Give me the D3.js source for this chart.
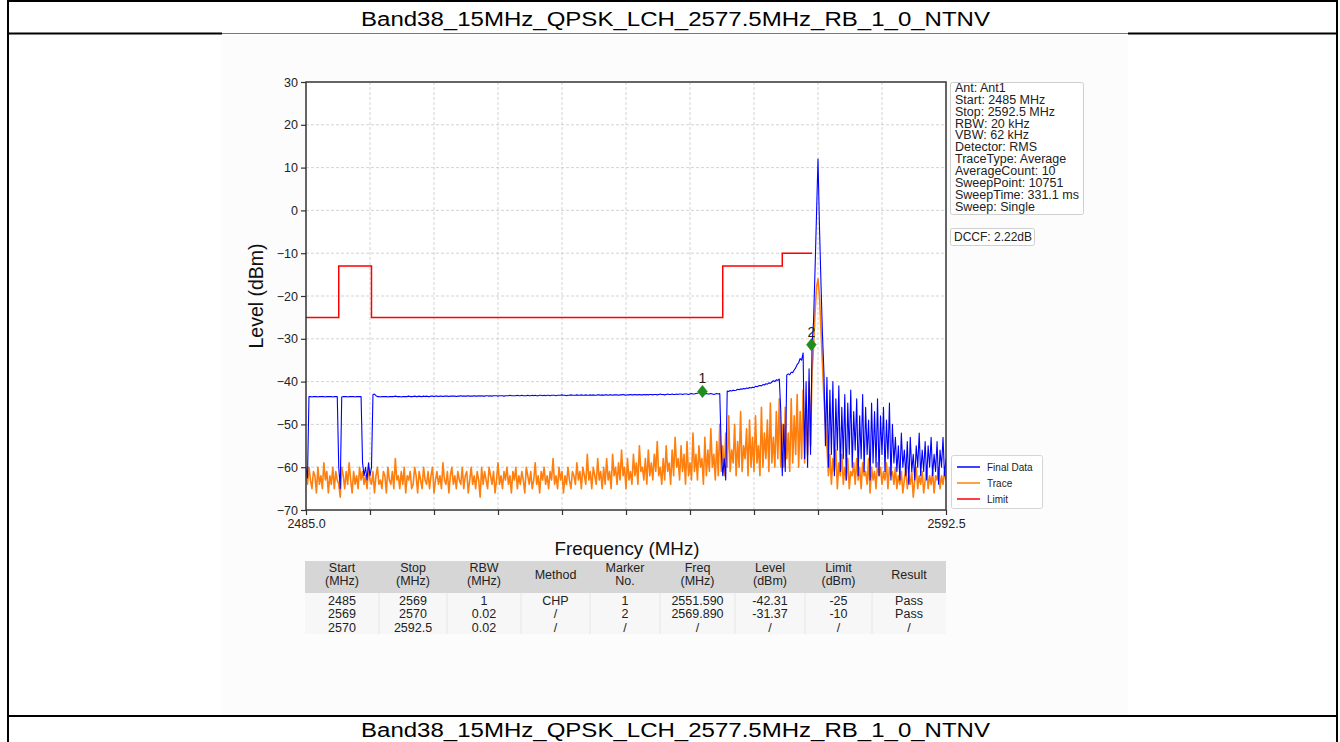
<!DOCTYPE html>
<html>
<head>
<meta charset="utf-8">
<script src="https://cdn.jsdelivr.net/npm/d3@7"></script>
<style>
  html, body { margin: 0; padding: 0; background: #fff; }
  svg { display: block; }
  text { font-family: "Liberation Sans", Arial, Helvetica, sans-serif; }
</style>
</head>
<body>
<svg id="chart" width="1340" height="742"></svg>
<script>
// ---- sweep settings ----
const sweepStart = 2485.0;
const sweepStop = 2592.5;

// ---- axis ticks ----
const freqTicks = [2485, 2495.75, 2506.5, 2517.25, 2528, 2538.75, 2549.5, 2560.25, 2571, 2581.75, 2592.5];
const freqTickLabels = ["2485.0", "", "", "", "", "", "", "", "", "", "2592.5"];
const levelTicks = [-70, -60, -50, -40, -30, -20, -10, 0, 10, 20, 30];

// ---- measured trace (dBm), evenly spaced over the sweep ----
const traceLevel = [
  -61,-64,-60,-63,-65,-61,-62,-66,-60,-64,-62,-65,-59,-63,-61,-66,-62,-64,-60,-65,
  -61,-63,-64,-67,-60,-62,-65,-61,-64,-59,-63,-66,-61,-64,-62,-65,-60,-63,-61,-64,
  -62,-65,-60,-63,-64,-61,-66,-62,-60,-64,-63,-65,-61,-62,-66,-60,-63,-64,-61,-65,
  -58,-63,-62,-65,-61,-64,-60,-66,-62,-63,-61,-65,-64,-60,-62,-66,-61,-63,-65,-60,
  -63,-64,-61,-65,-62,-60,-66,-63,-61,-64,-62,-65,-59,-63,-64,-61,-66,-62,-60,-64,
  -62,-65,-61,-63,-64,-60,-65,-62,-61,-66,-63,-60,-64,-62,-65,-61,-63,-67,-60,-64,
  -61,-63,-65,-60,-62,-64,-61,-66,-63,-59,-64,-62,-65,-61,-63,-60,-64,-62,-66,-61,
  -63,-60,-65,-62,-64,-61,-63,-66,-60,-62,-64,-61,-65,-63,-59,-64,-62,-66,-61,-63,
  -60,-64,-62,-65,-61,-63,-58,-64,-62,-65,-60,-63,-61,-66,-62,-64,-60,-63,-65,-61,
  -62,-64,-59,-63,-61,-65,-60,-62,-64,-57,-63,-61,-65,-60,-62,-64,-58,-63,-61,-65,
  -60,-64,-58,-63,-61,-65,-57,-62,-60,-64,-59,-63,-56,-62,-60,-65,-58,-63,-61,-64,
  -57,-62,-59,-64,-55,-61,-60,-63,-58,-64,-56,-62,-59,-63,-57,-61,-54,-62,-60,-64,
  -58,-63,-55,-61,-59,-64,-56,-62,-53,-60,-58,-63,-55,-61,-57,-64,-54,-62,-59,-63,
  -52,-61,-57,-63,-55,-60,-58,-64,-53,-62,-56,-61,-51,-60,-57,-63,-54,-62,-50,-61,
  -55,-62,-52,-60,-48,-61,-56,-59,-50,-62,-54,-60,-47,-61,-55,-58,-51,-62,-49,-60,
  -53,-61,-48,-59,-55,-62,-46,-60,-52,-58,-49,-61,-45,-59,-53,-60,-47,-58,-44,-60,
  -50,-60,-46,-58,-52,-61,-44,-59,-48,-57,-43,-60,-47,-58,-42,-59,-45,-57,-40,-55,
  -38,-32,-24,-18,-16,-20,-28,-36,-44,-50,
  -55,-62,-57,-64,-58,-61,-56,-65,-59,-62,-57,-64,-60,-63,-58,-65,-61,-62,-59,-64,
  -58,-63,-60,-65,-59,-62,-61,-64,-58,-66,-60,-63,-61,-65,-59,-62,-60,-64,-61,-63,
  -59,-65,-60,-62,-61,-64,
  -60,-65,-62,-64,-61,-66,-63,-60,-65,-62,-64,-61,-67,-63,-60,-65,-62,-64,-61,-66,
  -63,-60,-65,-62,-64,-61,-66,-62,-63,-60,-65,-62,-64,-61,-63
];

// ---- final data (dBm), same sweep points ----
const finalLevel = [
  -60,-62.5,
  -43.5,-43.5,-43.6,-43.5,-43.5,-43.5,-43.6,-43.5,-43.5,-43.5,-43.5,-43.6,-43.5,-43.5,-43.5,-43.5,-43.6,-43.5,-43.5,-43.5,
  -60,-65,
  -43.6,-43.5,-43.5,-43.5,-43.6,-43.5,-43.5,-43.5,-43.5,-43.6,-43.5,-43.5,-43.5,-43.5,
  -59,-62,-60,-63,-59,-62,-60,
  -43.0,-42.9,-43.3,
  -43.5,-43.5,-43.6,-43.5,-43.5,-43.5,-43.5,-43.6,-43.5,-43.5,-43.5,-43.5,-43.4,-43.5,-43.5,-43.5,-43.6,-43.5,-43.5,-43.5,
  -43.5,-43.4,-43.5,-43.5,-43.5,-43.4,-43.5,-43.5,-43.4,-43.5,-43.5,-43.4,-43.5,-43.4,-43.5,-43.5,-43.4,-43.4,-43.5,-43.4,
  -43.4,-43.5,-43.4,-43.4,-43.5,-43.4,-43.4,-43.4,-43.5,-43.4,-43.4,-43.4,-43.4,-43.5,-43.4,-43.4,-43.3,-43.4,-43.4,-43.4,
  -43.4,-43.3,-43.4,-43.4,-43.4,-43.3,-43.4,-43.4,-43.3,-43.4,-43.3,-43.4,-43.4,-43.3,-43.3,-43.4,-43.3,-43.4,-43.3,-43.3,
  -43.3,-43.4,-43.3,-43.3,-43.3,-43.4,-43.3,-43.3,-43.3,-43.2,-43.3,-43.3,-43.3,-43.3,-43.2,-43.3,-43.3,-43.2,-43.3,-43.3,
  -43.3,-43.2,-43.3,-43.3,-43.2,-43.3,-43.2,-43.3,-43.3,-43.2,-43.2,-43.3,-43.2,-43.3,-43.2,-43.2,-43.3,-43.2,-43.2,-43.2,
  -43.3,-43.2,-43.2,-43.2,-43.1,-43.2,-43.2,-43.3,-43.2,-43.2,-43.1,-43.2,-43.2,-43.2,-43.1,-43.2,-43.2,-43.1,-43.2,-43.2,
  -43.1,-43.2,-43.2,-43.1,-43.2,-43.1,-43.2,-43.2,-43.1,-43.1,-43.2,-43.1,-43.2,-43.1,-43.1,-43.2,-43.1,-43.1,-43.2,-43.1,
  -43.1,-43.1,-43.2,-43.1,-43.1,-43.0,-43.1,-43.2,-43.1,-43.1,-43.0,-43.1,-43.1,-43.0,-43.1,-43.1,-43.0,-43.1,-43.1,-43.0,
  -43.1,-43.0,-43.1,-43.0,-43.0,-43.1,-43.0,-43.0,-43.1,-43.0,-42.9,-43.0,-43.0,-43.1,-43.0,-42.9,-43.0,-43.0,-42.9,-43.0,
  -43.0,-42.9,-43.0,-42.9,-42.9,-43.0,-42.9,-42.9,-42.9,-43.0,-42.9,-42.8,-42.9,-42.9,-42.8,-42.7,-42.6,-42.6,-42.7,-42.8,
  -42.9,-42.8,-42.9,-42.9,-42.8,-42.9,-43.0,-42.9,-42.8,-42.9,-42.8,
  -56,-62,-58,-63,
  -42.2,-42.3,-42.1,-42.2,-42.0,-42.1,-42.0,-41.8,-41.9,-41.7,-41.8,-41.6,-41.7,-41.5,-41.6,-41.4,-41.5,-41.3,
  -41.4,-41.1,-41.2,-41.0,-40.9,-41.0,-40.7,-40.8,-40.5,-40.6,-40.3,-40.4,-40.1,-39.8,-40.0,-39.6,-39.7,-39.4,
  -47,-62,-50,-61,
  -38.5,-38.2,-38.4,-37.8,-37.9,-37.3,-36.8,-36.0,-35.6,-34.6,-35.0,-33.3,
  -58,-40,-60,-37,-57,
  -31.4,
  -26,-14,-1,12,-4,-17,-29,-38,
  -55,-39,-60,-42,-57,-40,-62,-44,-56,-41,-61,-46,-58,-43,-63,-45,-57,-42,-60,-47,
  -56,-44,-62,-48,-58,-43,-61,-46,-57,-49,-63,-45,-59,-47,-60,-44,-62,-48,-57,-46,
  -61,-49,-58,-45,-63,-50,-59,
  -53,-61,-55,-63,-52,-60,-56,-62,-54,-64,-53,-61,-57,-63,-55,-60,-52,-62,-56,-61,
  -54,-63,-55,-60,-53,-62,-57,-61,-54,-64,-56,-60,-53,-62,-58
];

// ---- limit line (MHz, dBm) ----
const limitFreq = [2485, 2490.5, 2490.5, 2496, 2496, 2555, 2555, 2565, 2565, 2570];
const limitLevel = [-25, -25, -13, -13, -25, -25, -13, -13, -10, -10];

// ---- markers ----
const markerNo = ["1", "2"];
const markerFreq = [2551.590, 2569.890];
const markerLevel = [-42.31, -31.37];

// ---- settings panel ----
const settingsLines = [
  "Ant: Ant1", "Start: 2485 MHz", "Stop: 2592.5 MHz", "RBW: 20 kHz", "VBW: 62 kHz",
  "Detector: RMS", "TraceType: Average", "AverageCount: 10", "SweepPoint: 10751",
  "SweepTime: 331.1 ms", "Sweep: Single"
];
const dccfText = "DCCF: 2.22dB";

// ---- legend ----
const legendNames = ["Final Data", "Trace", "Limit"];
const legendColors = ["#0000ff", "#ff7f0e", "#ff0000"];

// ---- result table ----
const tableHeader = [
  ["Start", "(MHz)"], ["Stop", "(MHz)"], ["RBW", "(MHz)"], ["Method"], ["Marker", "No."],
  ["Freq", "(MHz)"], ["Level", "(dBm)"], ["Limit", "(dBm)"], ["Result"]
];
const tableRows = [
  ["2485", "2569", "1", "CHP", "1", "2551.590", "-42.31", "-25", "Pass"],
  ["2569", "2570", "0.02", "/", "2", "2569.890", "-31.37", "-10", "Pass"],
  ["2570", "2592.5", "0.02", "/", "/", "/", "/", "/", "/"]
];

const pageTitle = "Band38_15MHz_QPSK_LCH_2577.5MHz_RB_1_0_NTNV";

// =====================================================
const svg = d3.select("#chart");
const W = 1340, H = 742;

// page frame
const frame = svg.append("g");
frame.append("rect").attr("x", 222).attr("y", 35).attr("width", 906).attr("height", 680).attr("fill", "#fcfcfc");
const hl = (y, x1, x2, w, c) => frame.append("line").attr("x1", x1).attr("x2", x2).attr("y1", y).attr("y2", y)
  .attr("stroke", c).attr("stroke-width", w);
hl(1, 8, 1338, 2, "#000");
hl(33.5, 8, 222, 2, "#000");
hl(33.5, 222, 1128, 1, "#777");
hl(33.5, 1128, 1338, 2, "#000");
hl(716, 8, 1338, 2, "#000");
frame.append("line").attr("x1", 8).attr("x2", 8).attr("y1", 0).attr("y2", H).attr("stroke", "#000").attr("stroke-width", 2);
frame.append("line").attr("x1", 1337).attr("x2", 1337).attr("y1", 0).attr("y2", H).attr("stroke", "#000").attr("stroke-width", 2);

[26, 737].forEach(y => {
  frame.append("text").attr("x", 675.5).attr("y", y).attr("text-anchor", "middle")
    .attr("font-size", 20).attr("textLength", 629).attr("lengthAdjust", "spacingAndGlyphs")
    .style("font-family", '"Liberation Sans Narrow", "Arial Narrow", "Liberation Sans", Arial, sans-serif')
    .attr("fill", "#000").text(pageTitle);
});

// plot area
const plot = { left: 306, right: 946, top: 82, bottom: 510 };
const x = d3.scaleLinear().domain([sweepStart, sweepStop]).range([plot.left, plot.right]);
const y = d3.scaleLinear().domain([-70, 30]).range([plot.bottom, plot.top]);

const g = svg.append("g");
g.append("rect").attr("x", plot.left).attr("y", plot.top).attr("width", plot.right - plot.left)
  .attr("height", plot.bottom - plot.top).attr("fill", "#fff");

// grid
g.append("g").selectAll("line").data(levelTicks.slice(1, -1)).join("line")
  .attr("x1", plot.left).attr("x2", plot.right).attr("y1", d => y(d)).attr("y2", d => y(d))
  .attr("stroke", "#c8c8c8").attr("stroke-width", 0.8).attr("stroke-dasharray", "3,2");
g.append("g").selectAll("line").data(freqTicks.slice(1, -1)).join("line")
  .attr("x1", d => x(d)).attr("x2", d => x(d)).attr("y1", plot.top).attr("y2", plot.bottom)
  .attr("stroke", "#c8c8c8").attr("stroke-width", 0.8).attr("stroke-dasharray", "3,2");

// traces
const stepOf = arr => (sweepStop - sweepStart) / (arr.length - 1);
const traceLine = arr => d3.line().x((d, i) => x(sweepStart + i * stepOf(arr))).y(d => y(d));

svg.append("clipPath").attr("id", "plotclip").append("rect")
  .attr("x", plot.left).attr("y", plot.top).attr("width", plot.right - plot.left).attr("height", plot.bottom - plot.top);

const traces = g.append("g").attr("clip-path", "url(#plotclip)");
traces.append("path").datum(traceLevel).attr("d", traceLine(traceLevel))
  .attr("fill", "none").attr("stroke", legendColors[1]).attr("stroke-width", 1.6)
  .attr("stroke-linejoin", "round");
traces.append("path").datum(finalLevel).attr("d", traceLine(finalLevel))
  .attr("fill", "none").attr("stroke", legendColors[0]).attr("stroke-width", 1.1)
  .attr("stroke-linejoin", "round");

const limitPts = limitFreq.map((f, i) => [f, limitLevel[i]]);
traces.append("path").datum(limitPts)
  .attr("d", d3.line().x(d => x(d[0])).y(d => y(d[1])))
  .attr("fill", "none").attr("stroke", legendColors[2]).attr("stroke-width", 1.5);

// markers
const mk = g.append("g");
markerFreq.forEach((f, i) => {
  mk.append("path").attr("d", d3.symbol(d3.symbolDiamond, 70)())
    .attr("transform", `translate(${x(f)},${y(markerLevel[i])}) scale(1.1,0.8)`)
    .attr("fill", "#1e8c1e").attr("stroke", "#1e8c1e").attr("stroke-width", 0.5);
  mk.append("text").attr("x", x(f)).attr("y", y(markerLevel[i]) - 8).attr("text-anchor", "middle")
    .attr("font-size", 14).attr("fill", "#222").text(markerNo[i]);
});

// axes
const xAxis = d3.axisBottom(x).tickValues(freqTicks).tickSize(5).tickPadding(4)
  .tickFormat((d, i) => freqTickLabels[i]);
const yAxis = d3.axisLeft(y).tickValues(levelTicks).tickSize(5).tickPadding(3).tickFormat(d3.format("d"));

const gx = g.append("g").attr("transform", `translate(0,${plot.bottom})`).call(xAxis);
const gy = g.append("g").attr("transform", `translate(${plot.left},0)`).call(yAxis);
[gx, gy].forEach(a => {
  a.select(".domain").remove();
  a.selectAll(".tick line").attr("stroke", "#333").attr("stroke-width", 1.2);
  a.selectAll(".tick text").attr("font-size", 12.5).attr("fill", "#222")
    .style("font-family", '"Liberation Sans", Arial, sans-serif');
});

// frame of the plot
g.append("rect").attr("x", plot.left).attr("y", plot.top).attr("width", plot.right - plot.left)
  .attr("height", plot.bottom - plot.top).attr("fill", "none").attr("stroke", "#333").attr("stroke-width", 1.5);

// axis titles
g.append("text").attr("transform", `translate(263,296) rotate(-90)`).attr("text-anchor", "middle")
  .attr("font-size", 19.5).attr("fill", "#111").text("Level (dBm)");
g.append("text").attr("x", 627).attr("y", 555).attr("text-anchor", "middle")
  .attr("font-size", 18.8).attr("fill", "#111").text("Frequency (MHz)");

// settings panel
const sp = g.append("g");
sp.append("rect").attr("x", 950.5).attr("y", 82.5).attr("width", 133).attr("height", 132).attr("rx", 2)
  .attr("fill", "#fff").attr("stroke", "#cfcfcf");
sp.selectAll("text").data(settingsLines).join("text")
  .attr("x", 955).attr("y", (d, i) => 92 + i * 11.85).attr("font-size", 12.5).attr("fill", "#222").text(d => d);
g.append("rect").attr("x", 950.5).attr("y", 228.5).attr("width", 84).attr("height", 17).attr("rx", 2)
  .attr("fill", "#fff").attr("stroke", "#cfcfcf");
g.append("text").attr("x", 954).attr("y", 241).attr("font-size", 12).attr("fill", "#222").text(dccfText);

// legend
const lg = g.append("g");
lg.append("rect").attr("x", 951.5).attr("y", 455.5).attr("width", 91).attr("height", 53).attr("rx", 2)
  .attr("fill", "#fff").attr("stroke", "#d5d5d5");
legendNames.forEach((n, i) => {
  const yy = 467 + i * 16;
  lg.append("line").attr("x1", 957).attr("x2", 980).attr("y1", yy).attr("y2", yy)
    .attr("stroke", legendColors[i]).attr("stroke-width", 1.5);
  lg.append("text").attr("x", 987).attr("y", yy + 3.5).attr("font-size", 10).attr("fill", "#222").text(n);
});

// result table
const colEdges = [305, 379, 447, 521, 590, 660, 735, 805, 872, 946];
const tb = g.append("g");
tb.append("rect").attr("x", colEdges[0]).attr("y", 561).attr("width", colEdges[9] - colEdges[0]).attr("height", 32)
  .attr("fill", "#d6d6d6");
tb.append("rect").attr("x", colEdges[0]).attr("y", 593).attr("width", colEdges[9] - colEdges[0]).attr("height", 41)
  .attr("fill", "#f7f7f7");
colEdges.slice(1, -1).forEach(cx => {
  tb.append("line").attr("x1", cx).attr("x2", cx).attr("y1", 593).attr("y2", 634)
    .attr("stroke", "#e6e6e6").attr("stroke-width", 1);
});
tableHeader.forEach((lines, c) => {
  const cx = (colEdges[c] + colEdges[c + 1]) / 2;
  lines.forEach((t, k) => {
    const yy = lines.length === 1 ? 579 : 572 + k * 13;
    tb.append("text").attr("x", cx).attr("y", yy).attr("text-anchor", "middle")
      .attr("font-size", 12.5).attr("fill", "#222").text(t);
  });
});
tableRows.forEach((row, r) => {
  row.forEach((t, c) => {
    const cx = (colEdges[c] + colEdges[c + 1]) / 2;
    tb.append("text").attr("x", cx).attr("y", 604.5 + r * 13.5).attr("text-anchor", "middle")
      .attr("font-size", 12.5).attr("fill", "#222").text(t);
  });
});
</script>
</body>
</html>
